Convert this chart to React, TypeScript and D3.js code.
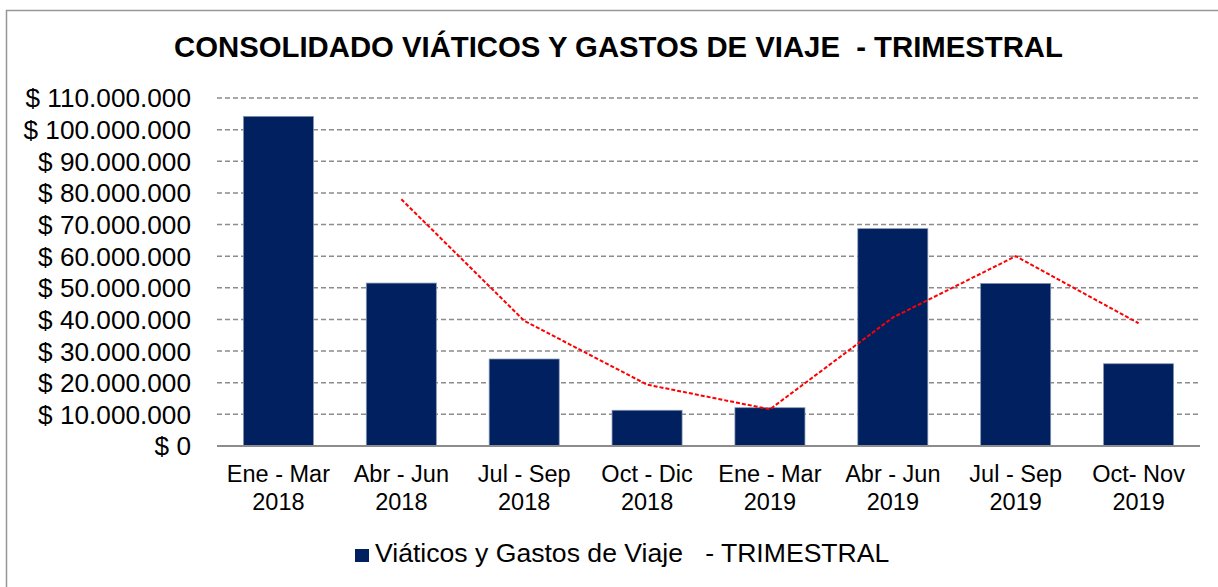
import * as d3 from "d3";

const W = 1218;
const H = 587;

const periods = [
  ["Ene - Mar", "2018"],
  ["Abr - Jun", "2018"],
  ["Jul - Sep", "2018"],
  ["Oct - Dic", "2018"],
  ["Ene - Mar", "2019"],
  ["Abr - Jun", "2019"],
  ["Jul - Sep", "2019"],
  ["Oct- Nov", "2019"],
];
const gastos = [104200000, 51500000, 27500000, 11300000, 12100000, 68700000, 51400000, 26000000];
// trend line (2-period moving average), starts at 2nd quarter
const tendencia = [78000000, 39600000, 19400000, 11600000, 40600000, 60000000, 38800000];
const yTicks = d3.range(0, 110000001, 10000000);

const M = { left: 217, right: 1200, top: 98, bottom: 446 };
const FONT = "Arial, 'Liberation Sans', sans-serif";

const fmt = (v: number) =>
  "$ " + (v === 0 ? "0" : d3.format(",")(v).replace(/,/g, "."));

export default function App() {
  const keys = periods.map((_, i) => String(i));
  const x = d3.scaleBand().domain(keys).range([M.left, M.right]).paddingInner(0.43).paddingOuter(0.215);
  const y = d3.scaleLinear().domain([0, 110000000]).range([M.bottom, M.top]);
  const cx = (i: number) => (x(String(i)) ?? 0) + x.bandwidth() / 2;

  const line = d3
    .line<number>()
    .x((_, i) => cx(i + 1))
    .y((d) => y(d));

  return (
    <svg width={W} height={H} style={{ position: "absolute", left: 0, top: 0 }} fontFamily={FONT}>
      <rect x={0} y={0} width={W} height={H} fill="#fff" />
      <rect x={6.5} y={10.5} width={W + 20} height={H + 20} fill="none" stroke="#969696" strokeWidth={1.5} />

      <text x={618.5} y={57} textAnchor="middle" fontSize={29.3} fontWeight="bold" fill="#000" style={{ whiteSpace: "pre" }}>
        {"CONSOLIDADO VIÁTICOS Y GASTOS DE VIAJE  - TRIMESTRAL"}
      </text>

      {yTicks.map((t) => (
        <g key={t}>
          {t > 0 && (
            <line x1={M.left} x2={M.right} y1={y(t)} y2={y(t)} stroke="#8c8c8c" strokeWidth={1.5} strokeDasharray="5 3" />
          )}
          <text x={191} y={y(t)} dy="0.36em" textAnchor="end" fontSize={26.2} fill="#000">
            {fmt(t)}
          </text>
        </g>
      ))}

      {gastos.map((v, i) => (
        <rect
          key={i}
          x={x(String(i))}
          y={y(v)}
          width={x.bandwidth()}
          height={y(0) - y(v)}
          fill="#002060"
          stroke="#8497b0"
          strokeWidth={0.75}
        />
      ))}

      <line x1={M.left} x2={M.right} y1={M.bottom} y2={M.bottom} stroke="#8c8c8c" strokeWidth={2} />

      <path d={line(tendencia) ?? ""} fill="none" stroke="#ff0000" strokeWidth={2} strokeDasharray="4 2" />

      {periods.map((p, i) => (
        <text key={i} x={cx(i)} textAnchor="middle" fontSize={23.5} fill="#000">
          <tspan x={cx(i)} y={482}>{p[0]}</tspan>
          <tspan x={cx(i)} y={510}>{p[1]}</tspan>
        </text>
      ))}

      <rect x={355} y={549} width={14} height={13} fill="#002060" />
      <text x={375} y={562} fontSize={26.6} fill="#000" style={{ whiteSpace: "pre" }}>
        {"Viáticos y Gastos de Viaje   - TRIMESTRAL"}
      </text>
    </svg>
  );
}
